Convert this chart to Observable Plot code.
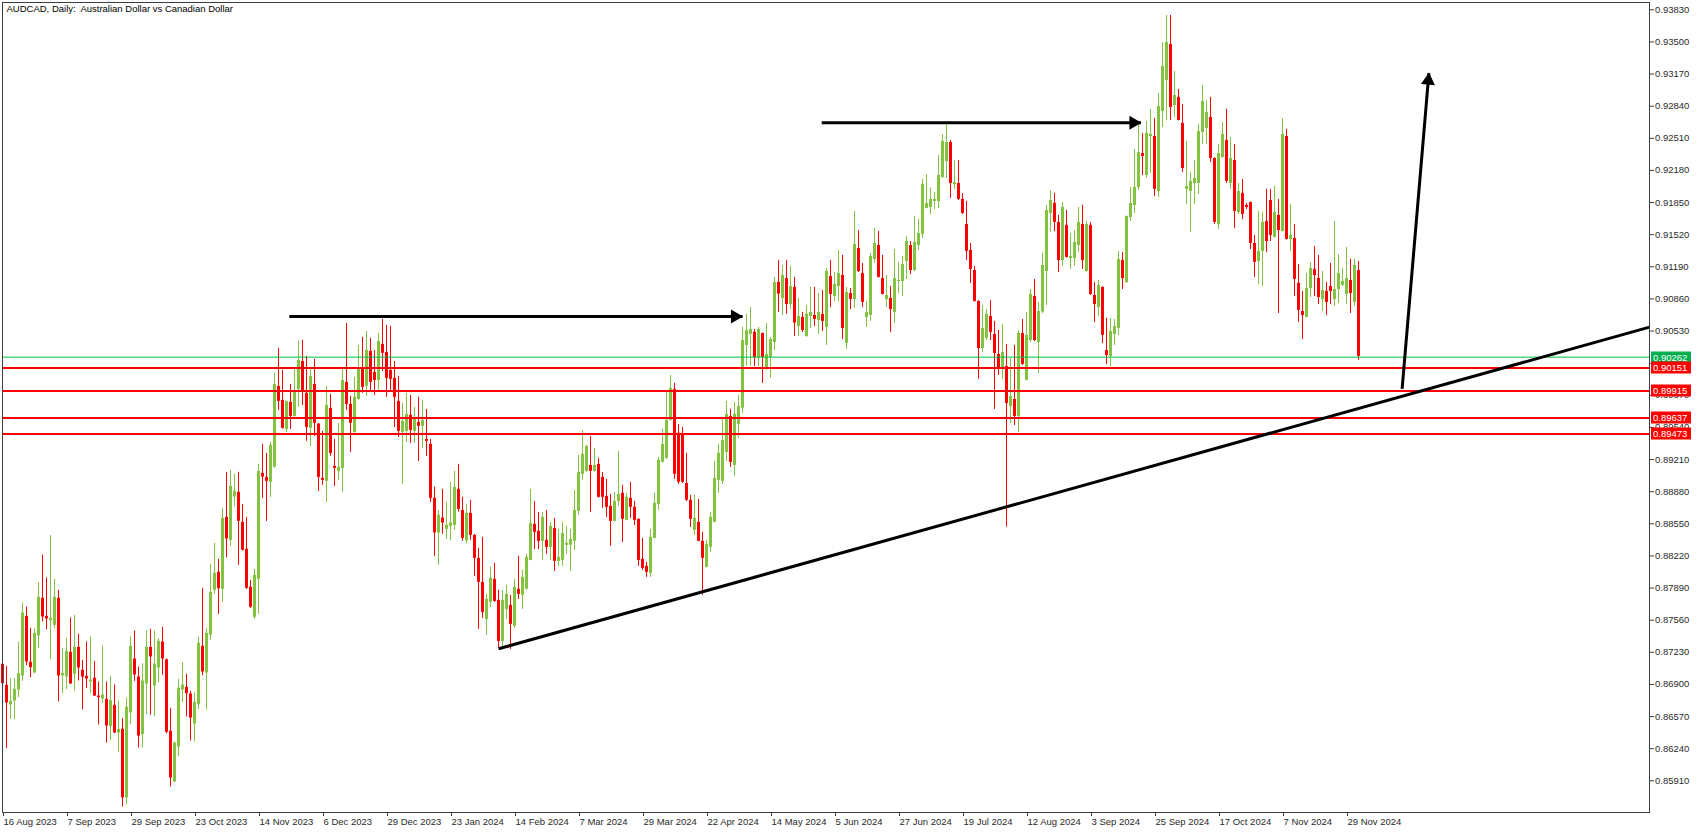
<!DOCTYPE html>
<html><head><meta charset="utf-8">
<script src="https://cdn.jsdelivr.net/npm/d3@7"></script>
<script src="https://cdn.jsdelivr.net/npm/@observablehq/plot@0.6"></script>
<style>html,body{margin:0;padding:0;background:#fff;overflow:hidden}</style>
</head><body><div id="chart"></div>
<script>
const title = "AUDCAD, Daily:  Australian Dollar vs Canadian Dollar";

// Daily bars, index 0 = 16 Aug 2023
const open = [
0.87107,0.86891,0.86689,0.86730,0.86843,0.86987,0.87600,0.87127,0.87018,0.87398,
0.87785,0.87600,0.87552,0.87507,0.87785,0.86987,0.86976,0.87230,0.87004,0.87281,
0.87045,0.86983,0.86925,0.86963,0.86781,0.86750,0.86747,0.86466,0.86685,0.86401,
0.86439,0.85734,0.86607,0.87161,0.86976,0.86384,0.86905,0.87281,0.86884,0.87069,
0.87336,0.87154,0.86418,0.85898,0.86257,0.86843,0.86870,0.86802,0.86494,0.86692,
0.87292,0.87018,0.87405,0.87867,0.88052,0.87877,0.88617,0.88380,0.88825,0.88873,
0.88565,0.88288,0.87898,0.87589,0.87979,0.89068,0.89027,0.88976,0.89133,0.89962,
0.89818,0.89520,0.89797,0.89653,0.89931,0.90218,0.89890,0.89530,0.89982,0.89575,
0.89017,0.88986,0.89736,0.89140,0.89088,0.89119,0.90003,0.89777,0.89489,0.89828,
0.90147,0.89962,0.90321,0.90105,0.90023,0.90393,0.90311,0.90126,0.90044,0.89808,
0.89489,0.89499,0.89664,0.89499,0.89592,0.89551,0.89417,0.89366,0.88812,0.88455,
0.88609,0.88493,0.88524,0.88534,0.88904,0.88688,0.88373,0.88657,0.88431,0.88195,
0.87948,0.87568,0.87743,0.87979,0.87764,0.87342,0.87671,0.87712,0.87496,0.87877,
0.87815,0.87877,0.88174,0.88544,0.88472,0.88370,0.88380,0.88308,0.88503,0.88164,
0.88174,0.88329,0.88329,0.88370,0.88678,0.89058,0.89089,0.89150,0.89089,0.89161,
0.89027,0.88832,0.88729,0.88575,0.88780,0.88863,0.88585,0.88811,0.88719,0.88596,
0.88185,0.88113,0.88041,0.88400,0.88750,0.89181,0.89222,0.89613,0.89931,0.89480,
0.89458,0.88965,0.88791,0.88483,0.88565,0.88370,0.88103,0.88308,0.88565,0.88996,
0.88986,0.89284,0.89653,0.89150,0.89571,0.89738,0.90382,0.90495,0.90516,0.90249,
0.90505,0.90156,0.90259,0.90413,0.91029,0.90865,0.91070,0.90803,0.90978,0.90577,
0.90670,0.90475,0.90680,0.90690,0.90639,0.90701,0.90567,0.91091,0.90885,0.90988,
0.91101,0.90403,0.90916,0.90855,0.91378,0.91122,0.90670,0.90690,0.91265,0.91409,
0.91070,0.90855,0.90865,0.90721,0.91039,0.91039,0.91245,0.91409,0.91152,0.91409,
0.91522,0.91789,0.91800,0.91861,0.91861,0.92108,0.92272,0.92467,0.92036,0.92046,
0.91882,0.91625,0.91358,0.91152,0.90834,0.90351,0.90454,0.90680,0.90495,0.90290,
0.90136,0.90166,0.89755,0.89827,0.89653,0.90505,0.90023,0.90433,0.90885,0.90413,
0.90725,0.91142,0.91738,0.91841,0.91646,0.91255,0.91615,0.91276,0.91276,0.91409,
0.91625,0.91142,0.91615,0.90896,0.90772,0.90978,0.90331,0.90269,0.90495,0.90557,
0.91255,0.91029,0.91697,0.91820,0.92005,0.92354,0.92128,0.92529,0.92529,0.91964,
0.92786,0.93104,0.93474,0.92847,0.92930,0.92663,0.91985,0.91964,0.92046,0.92046,
0.92570,0.92611,0.92724,0.92303,0.91625,0.92313,0.92488,0.92046,0.92282,0.91748,
0.91944,0.91820,0.91851,0.91430,0.91245,0.91348,0.91656,0.91872,0.91492,0.91718,
0.91553,0.92529,0.91471,0.91481,0.91019,0.90731,0.90670,0.90968,0.91163,0.91070,
0.90855,0.90937,0.90988,0.90855,0.90957,0.90998,0.90906,0.91050,0.90824,0.91153];
const high = [
0.87113,0.87086,0.86959,0.86959,0.87336,0.87737,0.87695,0.87476,0.87470,0.87949,
0.88230,0.87993,0.88428,0.87980,0.87867,0.87271,0.87374,0.87582,0.87610,0.87415,
0.87148,0.87336,0.87387,0.87137,0.86925,0.87295,0.86925,0.86983,0.86894,0.86730,
0.86548,0.86761,0.87387,0.87449,0.87079,0.87113,0.87449,0.87466,0.87449,0.87370,
0.87487,0.87161,0.86651,0.86310,0.86952,0.87127,0.87004,0.86829,0.86812,0.87387,
0.87887,0.87476,0.88134,0.88350,0.88185,0.88709,0.89079,0.89099,0.89058,0.89079,
0.88750,0.88614,0.87969,0.88082,0.89160,0.89366,0.89273,0.89386,0.90095,0.90352,
0.90126,0.89812,0.89982,0.90136,0.90424,0.90434,0.90270,0.90147,0.90239,0.89580,
0.89499,0.89962,0.89879,0.89417,0.89582,0.90136,0.90609,0.89859,0.90054,0.90383,
0.90465,0.90527,0.90455,0.90331,0.90506,0.90650,0.90588,0.90578,0.90218,0.90064,
0.89787,0.89890,0.89869,0.89746,0.89849,0.89818,0.89725,0.89417,0.88928,0.88688,
0.88904,0.88774,0.88976,0.89089,0.89161,0.88822,0.88750,0.88791,0.88440,0.88298,
0.88411,0.87825,0.88103,0.88144,0.87866,0.87866,0.87918,0.87815,0.87979,0.88216,
0.88072,0.88236,0.88904,0.88780,0.88667,0.88667,0.88688,0.88565,0.88606,0.88493,
0.88565,0.88524,0.88493,0.88893,0.89253,0.89510,0.89356,0.89448,0.89325,0.89222,
0.89078,0.89006,0.88852,0.88873,0.89294,0.88945,0.88863,0.88976,0.88780,0.88600,
0.88400,0.88154,0.88493,0.88863,0.89232,0.89520,0.89910,0.90075,0.89993,0.89571,
0.89541,0.89274,0.88842,0.88842,0.88801,0.88462,0.88380,0.88667,0.89191,0.89366,
0.89633,0.89808,0.89726,0.89797,0.89869,0.90570,0.90701,0.90772,0.90546,0.90567,
0.90510,0.90608,0.90464,0.91081,0.91255,0.91204,0.91255,0.91197,0.91081,0.90865,
0.90721,0.90793,0.90978,0.90978,0.90916,0.90947,0.91173,0.91255,0.91132,0.91358,
0.91307,0.90978,0.90968,0.91759,0.91563,0.91224,0.90834,0.91327,0.91584,0.91553,
0.91307,0.91101,0.90988,0.91368,0.91235,0.91296,0.91502,0.91450,0.91707,0.91676,
0.92087,0.92139,0.92001,0.91954,0.92334,0.92549,0.92652,0.92488,0.92282,0.92282,
0.91943,0.91861,0.91430,0.91194,0.90840,0.90793,0.90752,0.90844,0.90629,0.90536,
0.90598,0.90392,0.90249,0.90382,0.90536,0.90649,0.90721,0.90957,0.91060,0.90824,
0.91331,0.91820,0.91974,0.91944,0.91718,0.91851,0.91769,0.91533,0.91563,0.91800,
0.91820,0.91656,0.91646,0.91029,0.91050,0.90985,0.90660,0.90660,0.90649,0.91348,
0.91337,0.91712,0.92005,0.92395,0.92652,0.92560,0.92683,0.92806,0.92714,0.92971,
0.93495,0.93772,0.93772,0.93197,0.93012,0.92858,0.92478,0.92159,0.92282,0.92652,
0.93053,0.92899,0.92930,0.92310,0.92447,0.92673,0.92806,0.92519,0.92447,0.92046,
0.92087,0.91841,0.91855,0.91512,0.91759,0.91748,0.91985,0.91985,0.92015,0.91882,
0.92714,0.92601,0.91831,0.91625,0.91214,0.90937,0.91122,0.91235,0.91399,0.91307,
0.91142,0.91029,0.91224,0.91656,0.91317,0.91173,0.91389,0.91266,0.91266,0.91245];
const low = [
0.86901,0.86240,0.86542,0.86538,0.86764,0.86932,0.87093,0.86966,0.87011,0.87267,
0.87541,0.87459,0.87154,0.87470,0.86720,0.86805,0.86846,0.86901,0.86833,0.86935,
0.86637,0.86860,0.86805,0.86775,0.86483,0.86703,0.86298,0.86322,0.86394,0.86199,
0.85641,0.85662,0.86483,0.86932,0.86247,0.86247,0.86590,0.86586,0.86566,0.86915,
0.86994,0.86394,0.85847,0.85890,0.86155,0.86716,0.86566,0.86319,0.86309,0.86641,
0.86990,0.86637,0.87353,0.87826,0.87620,0.87744,0.88199,0.88319,0.88723,0.88124,
0.88270,0.87877,0.87682,0.87569,0.87620,0.88811,0.88575,0.88821,0.89120,0.89715,
0.89523,0.89489,0.89520,0.89647,0.89746,0.89766,0.89397,0.89345,0.89448,0.88883,
0.88945,0.88770,0.89243,0.88934,0.88996,0.88873,0.89715,0.89284,0.89480,0.89820,
0.89890,0.89859,0.89900,0.89869,0.89921,0.90116,0.89849,0.89921,0.89540,0.89438,
0.88955,0.89386,0.89376,0.89376,0.89191,0.89325,0.89243,0.88770,0.88216,0.88123,
0.88442,0.88390,0.88373,0.88483,0.88671,0.88370,0.88342,0.88380,0.88010,0.87466,
0.87579,0.87404,0.87692,0.87743,0.87277,0.87291,0.87568,0.87260,0.87476,0.87774,
0.87671,0.87870,0.88170,0.88287,0.88287,0.88174,0.88236,0.88174,0.88061,0.88113,
0.88113,0.88236,0.88061,0.88277,0.88637,0.88996,0.89080,0.88667,0.89082,0.88815,
0.88709,0.88616,0.88318,0.88570,0.88729,0.88359,0.88580,0.88606,0.88534,0.88113,
0.88072,0.88000,0.88000,0.88395,0.88688,0.89175,0.89212,0.89605,0.89006,0.88955,
0.88965,0.88780,0.88513,0.88431,0.88365,0.87815,0.88098,0.88257,0.88560,0.88863,
0.88955,0.89191,0.89130,0.89037,0.89428,0.89680,0.90166,0.90166,0.90166,0.90166,
0.89992,0.90125,0.90043,0.90331,0.90721,0.90690,0.90701,0.90752,0.90475,0.90475,
0.90516,0.90464,0.90557,0.90577,0.90495,0.90526,0.90382,0.90772,0.90834,0.90834,
0.90444,0.90341,0.90752,0.90762,0.91132,0.90772,0.90567,0.90629,0.91224,0.91075,
0.90900,0.90772,0.90516,0.90608,0.90916,0.90885,0.91060,0.91111,0.91142,0.91358,
0.91481,0.91785,0.91728,0.91779,0.91789,0.92098,0.92098,0.91892,0.91985,0.91872,
0.91728,0.91255,0.91019,0.90828,0.90036,0.90310,0.90433,0.90433,0.89725,0.90074,
0.90033,0.88516,0.89581,0.89560,0.89488,0.90177,0.90018,0.90413,0.90423,0.90094,
0.90707,0.90793,0.91543,0.91553,0.91132,0.91194,0.91280,0.91163,0.91194,0.91337,
0.91163,0.91136,0.90896,0.90618,0.90680,0.90403,0.90187,0.90166,0.90382,0.90485,
0.90957,0.91020,0.91656,0.91738,0.91974,0.92128,0.92098,0.92149,0.91913,0.91902,
0.92621,0.92693,0.92693,0.92724,0.92688,0.92159,0.91831,0.91543,0.91831,0.91933,
0.92447,0.92447,0.92262,0.91625,0.91574,0.92305,0.92046,0.91985,0.91584,0.91728,
0.91676,0.91779,0.91368,0.91081,0.91009,0.90988,0.91337,0.91450,0.91487,0.90711,
0.91548,0.91465,0.91348,0.90885,0.90618,0.90444,0.90665,0.90875,0.90885,0.90803,
0.90731,0.90690,0.90803,0.90783,0.90814,0.90988,0.90803,0.90711,0.90783,0.90228];
const close = [
0.86908,0.86709,0.86726,0.86850,0.87011,0.87634,0.87131,0.87072,0.87425,0.87795,
0.87593,0.87572,0.87579,0.87795,0.86987,0.87014,0.87240,0.86905,0.87281,0.87069,
0.86976,0.86956,0.86946,0.86781,0.86764,0.86792,0.86473,0.86733,0.86401,0.86439,
0.85734,0.86665,0.87291,0.86997,0.86370,0.86935,0.87281,0.87182,0.87110,0.87343,
0.87161,0.86408,0.85939,0.86298,0.86860,0.86894,0.86805,0.86555,0.86716,0.87322,
0.87028,0.87425,0.87846,0.88041,0.87884,0.88606,0.88394,0.88935,0.88884,0.88576,
0.88278,0.87887,0.87692,0.88021,0.89088,0.89030,0.88986,0.89356,0.89982,0.89808,
0.89530,0.89804,0.89653,0.89921,0.90229,0.89900,0.89540,0.90064,0.89582,0.89027,
0.88996,0.89766,0.89273,0.89119,0.89130,0.90023,0.89777,0.89582,0.89849,0.90147,
0.89951,0.90331,0.90003,0.90023,0.90424,0.90301,0.90044,0.90034,0.89849,0.89499,
0.89602,0.89674,0.89510,0.89623,0.89551,0.89612,0.89397,0.88811,0.88456,0.88637,
0.88558,0.88534,0.88558,0.88924,0.88698,0.88400,0.88657,0.88431,0.88195,0.87948,
0.87640,0.87774,0.87990,0.87753,0.87342,0.87764,0.87825,0.87517,0.87897,0.87825,
0.88000,0.88205,0.88555,0.88462,0.88370,0.88616,0.88308,0.88524,0.88164,0.88205,
0.88452,0.88349,0.88390,0.88688,0.89078,0.89263,0.89345,0.89089,0.89150,0.88822,
0.88822,0.88719,0.88575,0.88780,0.88852,0.88596,0.88822,0.88719,0.88585,0.88174,
0.88092,0.88051,0.88411,0.88760,0.89202,0.89366,0.89613,0.89941,0.89058,0.88976,
0.88976,0.88791,0.88596,0.88606,0.88370,0.88195,0.88339,0.88616,0.89017,0.89274,
0.89407,0.89674,0.89181,0.89674,0.89756,0.90433,0.90536,0.90546,0.90259,0.90546,
0.90259,0.90290,0.90444,0.91029,0.90909,0.91101,0.90803,0.90988,0.90611,0.90680,
0.90536,0.90701,0.90721,0.90649,0.90721,0.90629,0.91142,0.90906,0.91009,0.91122,
0.90557,0.90927,0.90855,0.91420,0.91142,0.90824,0.90721,0.91296,0.91430,0.91081,
0.90906,0.90896,0.90752,0.91070,0.91050,0.91214,0.91450,0.91152,0.91440,0.91533,
0.92036,0.91841,0.91882,0.91882,0.92128,0.92478,0.92467,0.92046,0.92056,0.91882,
0.91738,0.91348,0.91163,0.90834,0.90351,0.90557,0.90701,0.90516,0.90300,0.90136,
0.90310,0.89786,0.89858,0.89653,0.90505,0.90187,0.90485,0.90906,0.90433,0.90731,
0.91204,0.91769,0.91872,0.91646,0.91255,0.91800,0.91286,0.91296,0.91440,0.91646,
0.91255,0.91625,0.90906,0.90803,0.90998,0.90485,0.90279,0.90526,0.90577,0.91266,
0.91070,0.91707,0.91841,0.92005,0.92365,0.92324,0.92560,0.92550,0.91985,0.92837,
0.93248,0.93495,0.92827,0.92950,0.92693,0.92200,0.92015,0.92067,0.92098,0.92580,
0.92889,0.92776,0.92303,0.91646,0.92354,0.92550,0.92067,0.92303,0.91759,0.91964,
0.91728,0.91800,0.91430,0.91235,0.91348,0.91646,0.91450,0.91512,0.91748,0.91563,
0.92550,0.91471,0.91512,0.91060,0.90742,0.90690,0.90968,0.91173,0.91101,0.90875,
0.90947,0.90824,0.90937,0.90957,0.91122,0.91040,0.91070,0.90916,0.91204,0.90269];

// date axis: a label every 16 bars
const dateTickBars = [0,16,32,48,64,80,96,112,128,144,160,176,192,208,224,240,256,272,288,304,320,336];
const dateTickLabels = ["16 Aug 2023","7 Sep 2023","29 Sep 2023","23 Oct 2023","14 Nov 2023","6 Dec 2023",
  "29 Dec 2023","23 Jan 2024","14 Feb 2024","7 Mar 2024","29 Mar 2024","22 Apr 2024","14 May 2024",
  "5 Jun 2024","27 Jun 2024","19 Jul 2024","12 Aug 2024","3 Sep 2024","25 Sep 2024","17 Oct 2024",
  "7 Nov 2024","29 Nov 2024"];
const priceTicks = [0.85910,0.86240,0.86570,0.86900,0.87230,0.87560,0.87890,0.88220,0.88550,0.88880,
  0.89210,0.89540,0.89870,0.90200,0.90530,0.90860,0.91190,0.91520,0.91850,0.92180,0.92510,0.92840,
  0.93170,0.93500,0.93830];

// horizontal price levels (first one = current price line)
const levelPrices = [0.90262, 0.90151, 0.89915, 0.89637, 0.89473];
const levelKinds = ["current", "level", "level", "level", "level"];

// drawn objects (bar index, price)
const trendBars = [124, 411.75];
const trendPrices = [0.87266, 0.90570];
const arrowFromBar = [71.7, 204.8, 349.9];
const arrowFromPrice = [0.90680, 0.92669, 0.89937];
const arrowToBar = [185, 284.6, 356.6];
const arrowToPrice = [0.90680, 0.92669, 0.93179];

// ---- build ----
const candles = open.map((o, i) => ({i, open: o, high: high[i], low: low[i], close: close[i]}));
const levels = levelPrices.map((p, k) => ({price: p, kind: levelKinds[k]}));
const trend = [{x1: trendBars[0], y1: trendPrices[0], x2: trendBars[1], y2: trendPrices[1]}];
const arrows = arrowFromBar.map((b, k) => ({x1: b, y1: arrowFromPrice[k], x2: arrowToBar[k], y2: arrowToPrice[k]}));

const GREEN = "#82c341", RED = "#ff0000";
const candleColor = d => d.close >= d.open ? GREEN : RED;
const levelColor = d => d.kind === "current" ? "#00c040" : "#ff0000";
const FONT = "Liberation Sans, Arial, sans-serif";

const W = 1702, H = 833;
const chart = Plot.plot({
  width: W, height: H,
  marginLeft: 2, marginRight: 53, marginTop: 2, marginBottom: 21,
  x: {domain: [0, 411.75], axis: null},
  y: {domain: [0.855845, 0.93905], axis: null},
  style: {fontFamily: FONT, fontSize: "9.5px", color: "#2a2a2a", background: "#fff", overflow: "visible"},
  marks: [
    Plot.ruleX(candles, {x: "i", y1: "low", y2: "high", stroke: candleColor, strokeWidth: 1}),
    Plot.ruleX(candles, {x: "i", y1: "open", y2: "close", stroke: candleColor, strokeWidth: 3}),
    Plot.ruleY(levels.filter(d => d.kind === "current"), {y: "price", stroke: levelColor, strokeWidth: 1}),
    Plot.ruleY(levels.filter(d => d.kind !== "current"), {y: "price", stroke: levelColor, strokeWidth: 2}),
    Plot.link(trend, {x1: "x1", y1: "y1", x2: "x2", y2: "y2", stroke: "#000", strokeWidth: 3}),
    Plot.link(arrows, {x1: "x1", y1: "y1", x2: "x2", y2: "y2", stroke: "#000", strokeWidth: 3}),
    Plot.dot(arrows.slice(0, 2), {x: "x2", y: "y2", symbol: "triangle", r: 5.2, fill: "#000", stroke: null, rotate: 90, dx: -7.5}),
    Plot.dot(arrows.slice(2), {x: "x2", y: "y2", symbol: "triangle", r: 5.2, fill: "#000", stroke: null, rotate: 5, dx: -0.6, dy: 7.5}),
    Plot.frame({stroke: "#3a3e44"}),
    Plot.axisY({anchor: "right", ticks: priceTicks, tickSize: 4, tickPadding: 1.5, tickFormat: d3.format(".5f"), stroke: "#3a3e44", fill: "#2a2a2a"}),
    Plot.axisX({anchor: "bottom", ticks: dateTickBars, tickSize: 4, tickPadding: 1.5, textAnchor: "start", dx: 1,
      tickFormat: d => dateTickLabels[dateTickBars.indexOf(d)], stroke: "#3a3e44", fill: "#2a2a2a"}),
    Plot.text([title], {frameAnchor: "top-left", text: d => d, textAnchor: "start", lineAnchor: "top", dx: 4, dy: 3, fill: "#000", fontSize: 9.5})
  ]
});

// price-level tags on the right axis
const ys = chart.scale("y");
const g = d3.select(chart).append("g").attr("font-family", FONT).attr("font-size", 9.5).attr("text-anchor", "start");
levels.forEach(d => {
  const y = Math.round(ys.apply(d.price)) + 0.5;
  g.append("rect").attr("x", 1651).attr("y", y - 6).attr("width", 40).attr("height", 12)
    .attr("fill", d.kind === "current" ? "#00b050" : "#ff0000");
  g.append("text").attr("x", 1653).attr("y", y + 3.5).attr("fill", "#fff").attr("text-anchor", "start")
    .text(d3.format(".5f")(d.price));
});

document.getElementById("chart").appendChild(chart);
</script>
</body></html>
